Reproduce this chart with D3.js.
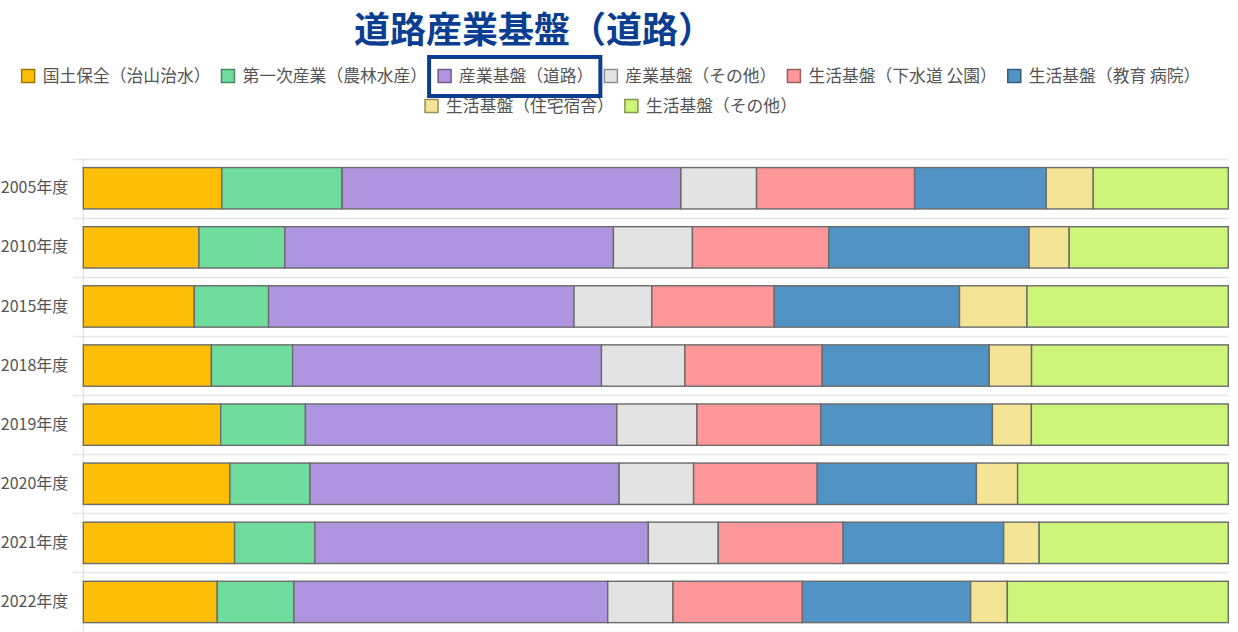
<!DOCTYPE html>
<html>
<head>
<meta charset="utf-8">
<script src="https://cdn.jsdelivr.net/npm/d3@7"></script>
<style>
  html, body { margin: 0; padding: 0; background: #fff; }
  svg { display: block; font-family: "Noto Sans CJK JP", "Noto Sans", sans-serif; }
</style>
</head>
<body>
<svg id="chart" width="1238" height="632"></svg>
<script>
// Fiscal years (rows, top to bottom)
const years = ["2005年度", "2010年度", "2015年度", "2018年度", "2019年度", "2020年度", "2021年度", "2022年度"];

// Spending categories (stack order, left to right)
const categories = [
  "国土保全（治山治水）",
  "第一次産業（農林水産）",
  "産業基盤（道路）",
  "産業基盤（その他）",
  "生活基盤（下水道 公園）",
  "生活基盤（教育 病院）",
  "生活基盤（住宅宿舎）",
  "生活基盤（その他）"
];

const colors = ["#fdbf06", "#6fdc9e", "#af95e0", "#e3e3e3", "#fe979a", "#5193c5", "#f4e496", "#ccf57a"];

// Share of each category per year (%)
const kokudo      = [12.1, 10.1,  9.7, 11.2, 12.0, 12.8, 13.2, 11.7];
const daiichiji   = [10.5,  7.5,  6.5,  7.1,  7.4,  7.0,  7.0,  6.7];
const douro       = [29.6, 28.7, 26.7, 27.0, 27.2, 27.0, 29.1, 27.4];
const sangyoOther = [ 6.6,  6.9,  6.8,  7.3,  7.0,  6.5,  6.1,  5.7];
const gesuido     = [13.8, 11.9, 10.7, 12.0, 10.8, 10.8, 10.9, 11.3];
const kyouiku     = [11.5, 17.5, 16.2, 14.6, 15.0, 13.9, 14.0, 14.7];
const juutaku     = [ 4.1,  3.5,  5.9,  3.7,  3.4,  3.6,  3.1,  3.2];
const seikatsuOther = [11.8, 13.9, 17.6, 17.2, 17.2, 18.4, 16.5, 19.3];

const title = "道路産業基盤（道路）";
const highlighted = "産業基盤（道路）";

const seriesValues = [kokudo, daiichiji, douro, sangyoOther, gesuido, kyouiku, juutaku, seikatsuOther];

const rows = years.map((y, i) => {
  const r = { year: y };
  categories.forEach((c, k) => { r[c] = seriesValues[k][i]; });
  return r;
});

const svg = d3.select("#chart");
const plot = { left: 83.3, right: 1228.3, top: 158.7, bottom: 631.5 };

const stack = d3.stack().keys(categories).offset(d3.stackOffsetExpand);
const stacked = stack(rows);

const x = d3.scaleLinear().domain([0, 1]).range([plot.left, plot.right]);
const y = d3.scaleBand().domain(years).range([plot.top, plot.bottom])
  .paddingInner(0.3).paddingOuter(0.15);
const color = d3.scaleOrdinal().domain(categories).range(colors);

// Horizontal gridlines between rows
const step = y.step();
const gridYs = years.map(d => y(d) - step * 0.15).concat([plot.bottom]);
svg.append("g")
  .selectAll("line")
  .data(gridYs)
  .join("line")
  .attr("x1", 73).attr("x2", plot.right)
  .attr("y1", d => Math.round(d) + 0.5).attr("y2", d => Math.round(d) + 0.5)
  .attr("stroke", "#e6e6e6").attr("stroke-width", 1.5);

// Category axis line
svg.append("line")
  .attr("x1", plot.left).attr("x2", plot.left)
  .attr("y1", plot.top).attr("y2", 632)
  .attr("stroke", "#dcdcdc").attr("stroke-width", 1);

// Stacked bars
svg.append("g")
  .selectAll("g")
  .data(stacked)
  .join("g")
  .attr("fill", d => color(d.key))
  .selectAll("rect")
  .data(d => d)
  .join("rect")
  .attr("x", d => x(d[0]))
  .attr("y", d => y(d.data.year))
  .attr("width", d => x(d[1]) - x(d[0]))
  .attr("height", y.bandwidth())
  .attr("stroke", "#6b6b6b")
  .attr("stroke-width", 1.4);

// Year labels
const yAxis = d3.axisLeft(y).tickSize(0).tickPadding(15);
const gy = svg.append("g").attr("transform", `translate(${plot.left},0)`).call(yAxis);
gy.select(".domain").remove();
gy.selectAll("text")
  .attr("font-size", 16)
  .attr("fill", "#555")
  .attr("font-family", "'Noto Sans CJK JP', sans-serif");

// Title
svg.append("text")
  .attr("x", 354).attr("y", 43)
  .attr("text-anchor", "start")
  .attr("font-size", 36)
  .attr("font-weight", "bold")
  .attr("fill", "#0b3e91")
  .text(title);

// Legend: items flow into rows, each row centred
const legend = svg.append("g");
const legendCenter = 611;
const maxRowWidth = 1190;
const sw = 13, gapText = 8, itemGap = 11, fontSize = 16.8;
const rowYs = [76, 106];

const items = categories.map(c => {
  const g = legend.append("g");
  g.append("rect")
    .attr("width", sw).attr("height", sw)
    .attr("y", -sw / 2)
    .attr("fill", color(c))
    .attr("stroke", d3.color(color(c)).darker(1.3))
    .attr("stroke-width", 1.5);
  const t = g.append("text")
    .attr("x", sw + gapText)
    .attr("dy", "0.35em")
    .attr("font-size", fontSize)
    .attr("fill", "#555")
    .text(c);
  const w = sw + gapText + t.node().getComputedTextLength();
  return { key: c, g, w };
});

const legendRows = [];
let cur = [], curW = 0;
items.forEach(it => {
  const add = (cur.length ? itemGap : 0) + it.w;
  if (cur.length && curW + add > maxRowWidth) {
    legendRows.push({ items: cur, w: curW });
    cur = [it]; curW = it.w;
  } else {
    cur.push(it); curW += add;
  }
});
legendRows.push({ items: cur, w: curW });

legendRows.forEach((row, ri) => {
  let xPos = legendCenter - row.w / 2;
  row.items.forEach(it => {
    it.g.attr("transform", `translate(${xPos},${rowYs[ri]})`);
    it.x = xPos; it.y = rowYs[ri];
    xPos += it.w + itemGap;
  });
});

// Frame around the highlighted legend entry
const hi = items.find(it => it.key === highlighted);
svg.append("rect")
  .attr("x", hi.x - 9)
  .attr("y", hi.y - 19)
  .attr("width", hi.w + 16)
  .attr("height", 39)
  .attr("fill", "none")
  .attr("stroke", "#0b3e91")
  .attr("stroke-width", 4);
</script>
</body>
</html>
